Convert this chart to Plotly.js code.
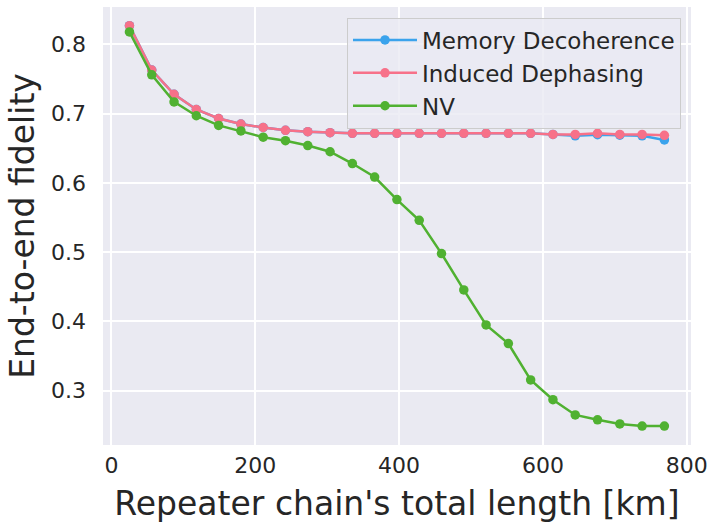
<!DOCTYPE html>
<html>
<head>
<meta charset="utf-8">
<script src="https://cdn.plot.ly/plotly-3.0.1.min.js"></script>
<style>
  html, body { margin: 0; padding: 0; background: #fff; }
  #plot { width: 710px; height: 523px; }
</style>
</head>
<body>
<div id="plot"></div>
<script>
var lengths = [25, 56, 87, 118, 149, 180, 211, 242, 273, 304, 335, 366, 397,
               428, 459, 490, 521, 552, 583, 614, 645, 676, 707, 738, 769];

var memory_fid = [0.827, 0.763, 0.728, 0.706, 0.693, 0.685, 0.680, 0.676, 0.674, 0.6725, 0.6716, 0.6716, 0.6716,
                  0.6716, 0.6716, 0.6716, 0.6716, 0.6716, 0.6716, 0.670, 0.668, 0.6696, 0.669, 0.668, 0.662];
var dephasing_fid = [0.827, 0.763, 0.728, 0.706, 0.693, 0.685, 0.680, 0.676, 0.674, 0.6725, 0.6716, 0.6716, 0.6716,
                     0.6716, 0.6716, 0.6716, 0.6716, 0.6716, 0.6716, 0.670, 0.670, 0.6716, 0.670, 0.670, 0.6687];
var nv_fid = [0.818, 0.756, 0.717, 0.697, 0.683, 0.675, 0.666, 0.661, 0.654, 0.645, 0.628, 0.6085, 0.576,
              0.546, 0.498, 0.4455, 0.395, 0.368, 0.3156, 0.287, 0.265, 0.258, 0.252, 0.249, 0.249];

var Memory = {
  name: "Memory Decoherence",
  x: lengths,
  y: memory_fid,
  type: 'scatter',
  mode: 'lines+markers',
  line: {color: '#3ba3ec', width: 2.5},
  marker: {color: '#3ba3ec', size: 9.5}
};

var Dephasing = {
  name: "Induced Dephasing",
  x: lengths,
  y: dephasing_fid,
  type: 'scatter',
  mode: 'lines+markers',
  line: {color: '#f77189', width: 2.5},
  marker: {color: '#f77189', size: 9.5}
};

var NV = {
  name: "NV",
  x: lengths,
  y: nv_fid,
  type: 'scatter',
  mode: 'lines+markers',
  line: {color: '#50b131', width: 2.5},
  marker: {color: '#50b131', size: 9.5}
};

let data = [Memory, Dephasing, NV];

let layout = {
  width: 710,
  height: 523,
  margin: {l: 103, r: 19, t: 7, b: 78},
  paper_bgcolor: '#ffffff',
  plot_bgcolor: '#eaeaf2',
  font: {family: 'DejaVu Sans', color: '#262626', size: 22},
  xaxis: {
    range: [-11.8, 806],
    tickvals: [0, 200, 400, 600, 800],
    gridcolor: '#ffffff',
    gridwidth: 1.5,
    zeroline: false,
    showline: false,
    ticks: '',
    ticklabelstandoff: 5,
    tickfont: {size: 22},
    title: {text: "Repeater chain's total length [km]", font: {size: 33}, standoff: 14}
  },
  yaxis: {
    range: [0.2216, 0.854],
    tickvals: [0.3, 0.4, 0.5, 0.6, 0.7, 0.8],
    gridcolor: '#ffffff',
    gridwidth: 1.5,
    zeroline: false,
    showline: false,
    ticks: '',
    ticklabelstandoff: 16,
    tickfont: {size: 22},
    title: {text: 'End-to-end fidelity', font: {size: 33}, standoff: 6}
  },
  legend: {
    x: 0.983,
    y: 0.976,
    xanchor: 'right',
    yanchor: 'top',
    bgcolor: 'rgba(234,234,242,0.8)',
    bordercolor: '#cccccc',
    borderwidth: 1,
    itemwidth: 64,
    font: {size: 23}
  }
};

Plotly.newPlot('plot', data, layout, {displayModeBar: false});
</script>
</body>
</html>
